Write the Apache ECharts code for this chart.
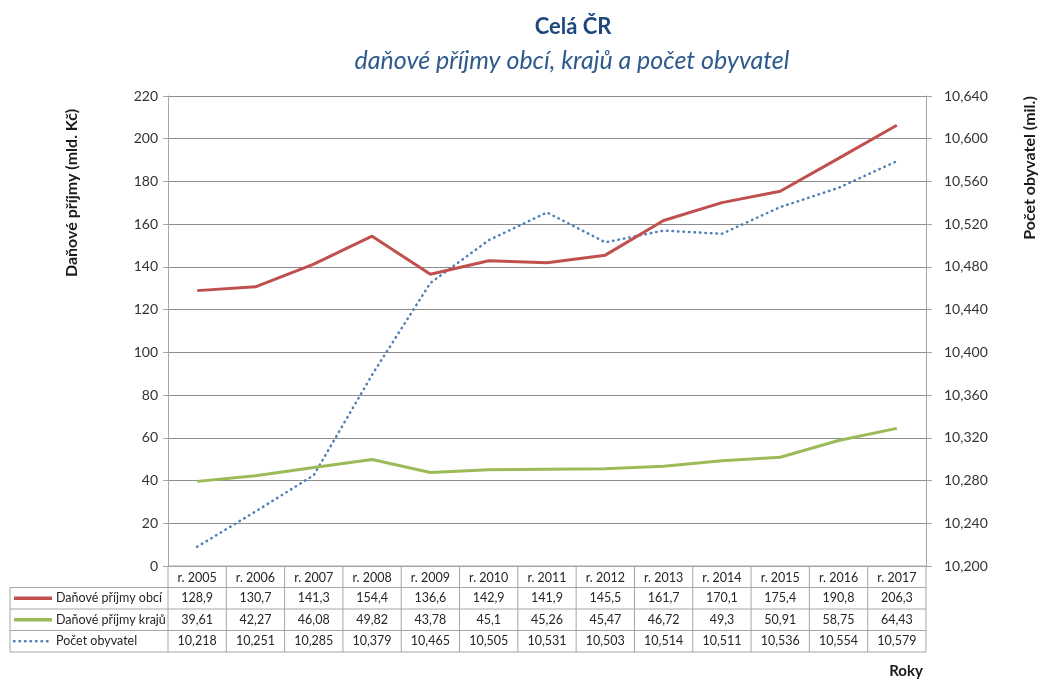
<!DOCTYPE html>
<html>
<head>
<meta charset="utf-8">
<script src="https://cdn.jsdelivr.net/npm/echarts@6/dist/echarts.min.js"></script>
<style>
html, body { margin: 0; background: #fff; }
#chart { width: 1041px; height: 681px; }
</style>
</head>
<body>
<div id="chart"></div>
<script>
const years = ['r. 2005', 'r. 2006', 'r. 2007', 'r. 2008', 'r. 2009', 'r. 2010', 'r. 2011',
               'r. 2012', 'r. 2013', 'r. 2014', 'r. 2015', 'r. 2016', 'r. 2017'];
const prijmyObci = [128.9, 130.7, 141.3, 154.4, 136.6, 142.9, 141.9, 145.5, 161.7, 170.1, 175.4, 190.8, 206.3];
const prijmyKraju = [39.61, 42.27, 46.08, 49.82, 43.78, 45.1, 45.26, 45.47, 46.72, 49.3, 50.91, 58.75, 64.43];
const pocetObyvatel = [10.218, 10.251, 10.285, 10.379, 10.465, 10.505, 10.531, 10.503, 10.514, 10.511, 10.536, 10.554, 10.579];

const FONT = 'Lato, "Open Sans", sans-serif';
const RED = '#c0504d';
const GREEN = '#9bbb59';
const BLUE = '#4f7fb8';
const BORDER = '#a6a6a6';

const comma = v => String(v).replace('.', ',');

const chart = echarts.init(document.getElementById('chart'));

const option = {
    animation: false,
    backgroundColor: '#fff',
    title: [
        {
            text: 'Celá ČR',
            left: 568, top: 11, textAlign: 'center',
            textStyle: { fontFamily: FONT, fontSize: 22, fontWeight: 'bold', color: '#1f497d' }
        },
        {
            text: 'daňové příjmy obcí, krajů a počet obyvatel',
            left: 567, top: 43, textAlign: 'center',
            textStyle: { fontFamily: FONT, fontSize: 25, fontStyle: 'italic', fontWeight: 'normal', color: '#2e5a8c' }
        }
    ],
    grid: { left: 168, right: 115, top: 96, bottom: 115 },
    xAxis: {
        type: 'category',
        data: years,
        boundaryGap: true,
        axisLine: { lineStyle: { color: BORDER, width: 1 } },
        axisTick: { show: false },
        axisLabel: { margin: 5, fontFamily: FONT, fontSize: 12.5, color: '#262626' },
        splitLine: { show: false }
    },
    yAxis: [
        {
            type: 'value', min: 0, max: 220, interval: 20,
            axisLine: { show: true, lineStyle: { color: BORDER } },
            axisTick: { show: true, inside: false, length: 5, lineStyle: { color: BORDER } },
            axisLabel: { margin: 10, fontFamily: FONT, fontSize: 14, color: '#333' },
            splitLine: { show: true, lineStyle: { color: '#8c8c8c', width: 1 } }
        },
        {
            type: 'value', min: 10.2, max: 10.64, interval: 0.04,
            position: 'right',
            axisLine: { show: true, lineStyle: { color: BORDER } },
            axisTick: { show: true, inside: false, length: 6, lineStyle: { color: BORDER } },
            axisLabel: {
                margin: 18, fontFamily: FONT, fontSize: 14, color: '#333',
                formatter: v => v.toFixed(3).replace('.', ',')
            },
            splitLine: { show: false }
        }
    ],
    series: [
        {
            name: 'Daňové příjmy obcí', type: 'line', data: prijmyObci, yAxisIndex: 0,
            symbol: 'none', lineStyle: { color: RED, width: 3 }, itemStyle: { color: RED }, z: 3
        },
        {
            name: 'Daňové příjmy krajů', type: 'line', data: prijmyKraju, yAxisIndex: 0,
            symbol: 'none', lineStyle: { color: GREEN, width: 3 }, itemStyle: { color: GREEN }, z: 3
        },
        {
            name: 'Počet obyvatel', type: 'line', data: pocetObyvatel, yAxisIndex: 1,
            symbol: 'none',
            lineStyle: { color: BLUE, width: 2.5, type: [0.5, 5], cap: 'round' },
            itemStyle: { color: BLUE }, z: 2
        }
    ]
};
chart.setOption(option);

// data table under the plot, placed from the category axis
const rows = [
    { name: 'Daňové příjmy obcí', color: RED, dotted: false, values: prijmyObci.map(v => v.toFixed(1).replace('.', ',')) },
    { name: 'Daňové příjmy krajů', color: GREEN, dotted: false, values: prijmyKraju.map(comma) },
    { name: 'Počet obyvatel', color: BLUE, dotted: true, values: pocetObyvatel.map(v => v.toFixed(3).replace('.', ',')) }
];

const x0 = chart.convertToPixel({ xAxisIndex: 0 }, 0);
const x1 = chart.convertToPixel({ xAxisIndex: 0 }, 1);
const colW = x1 - x0;
const tableTop = chart.convertToPixel({ yAxisIndex: 0 }, 0);
const rowH = 21.5;
const tableLeft = 10;
const colLeft = x0 - colW / 2;
const colRight = colLeft + colW * years.length;
const tableBottom = tableTop + rowH * (rows.length + 1);

const g = [];
const line = (xa, ya, xb, yb) => g.push({
    type: 'line', silent: true,
    shape: { x1: xa, y1: ya, x2: xb, y2: yb },
    style: { stroke: BORDER, lineWidth: 1 }
});

line(colLeft, tableTop, colRight, tableTop);
for (let r = 1; r <= rows.length + 1; r++) {
    line(tableLeft, tableTop + r * rowH, colRight, tableTop + r * rowH);
}
line(tableLeft, tableTop + rowH, tableLeft, tableBottom);
for (let c = 0; c <= years.length; c++) {
    const x = colLeft + c * colW;
    line(x, tableTop, x, tableBottom);
}

rows.forEach((row, r) => {
    const cy = tableTop + (r + 1.5) * rowH;
    g.push({
        type: 'line', silent: true,
        shape: { x1: 14, y1: cy, x2: 52, y2: cy },
        style: row.dotted
            ? { stroke: row.color, lineWidth: 2.5, lineDash: [0.5, 5], lineCap: 'round' }
            : { stroke: row.color, lineWidth: 3.5 }
    });
    g.push({
        type: 'text', silent: true, x: 56, y: cy,
        style: { text: row.name, fontFamily: FONT, fontSize: 12.5, fill: '#262626', verticalAlign: 'middle' }
    });
    row.values.forEach((val, c) => {
        g.push({
            type: 'text', silent: true,
            x: chart.convertToPixel({ xAxisIndex: 0 }, c), y: cy,
            style: { text: val, fontFamily: FONT, fontSize: 12.5, fill: '#262626', align: 'center', verticalAlign: 'middle' }
        });
    });
});

// axis names
g.push({
    type: 'text', silent: true, x: 72, y: 193, rotation: Math.PI / 2,
    style: { text: 'Daňové příjmy (mld. Kč)', fontFamily: FONT, fontSize: 16, fontWeight: 'bold', fill: '#1a1a1a', align: 'center', verticalAlign: 'middle' }
});
g.push({
    type: 'text', silent: true, x: 1030, y: 168, rotation: Math.PI / 2,
    style: { text: 'Počet obyvatel (mil.)', fontFamily: FONT, fontSize: 16, fontWeight: 'bold', fill: '#1a1a1a', align: 'center', verticalAlign: 'middle' }
});
g.push({
    type: 'text', silent: true, x: 906, y: 671,
    style: { text: 'Roky', fontFamily: FONT, fontSize: 15, fontWeight: 'bold', fill: '#1a1a1a', align: 'center', verticalAlign: 'middle' }
});

chart.setOption({ graphic: g });
</script>
</body>
</html>
